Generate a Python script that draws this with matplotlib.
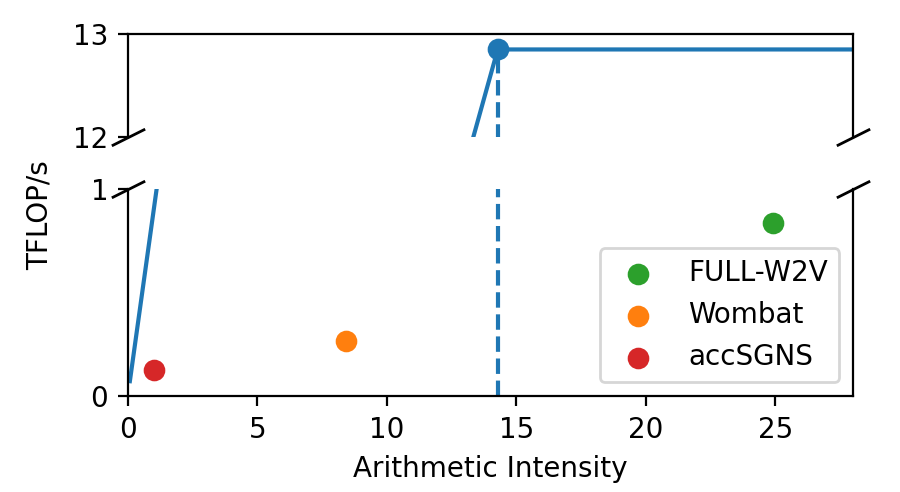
import numpy as np
import matplotlib
matplotlib.use('Agg')
import matplotlib.pyplot as plt

# roofline (TFLOP/s vs FLOP/byte)
bandwidth = 0.9        # TB/s
peak = 12.85           # TFLOP/s
ridge = peak / bandwidth
roof_x = [0.08, ridge, 28]
roof_y = [bandwidth * 0.08, peak, peak]

names = ['FULL-W2V', 'Wombat', 'accSGNS']
ai = [24.9, 8.42, 1.0]
perf = [0.836, 0.266, 0.126]
colors = ['tab:green', 'tab:orange', 'tab:red']

fig, (ax1, ax2) = plt.subplots(2, 1, sharex=True, figsize=(4.5, 2.46), dpi=200,
                               gridspec_kw={'height_ratios': [1, 2]})
fig.subplots_adjust(left=0.142, right=0.948, top=0.931, bottom=0.195, hspace=0.335)

for ax in (ax1, ax2):
    ax.plot(roof_x, roof_y, color='tab:blue', lw=1.5)
    ax.plot([ridge, ridge], [0, peak], '--', color='tab:blue', lw=1.5)
ax1.plot([ridge], [peak], 'o', color='tab:blue', ms=6.8)

for n, x, y, c in zip(names, ai, perf, colors):
    ax2.scatter(x, y, color=c, s=46, label=n, zorder=3)

ax1.set_ylim(12, 13)
ax2.set_ylim(0, 1)
ax2.set_xlim(0, 28)
ax1.set_yticks([12, 13])
ax2.set_yticks([0, 1])
ax2.set_xticks([0, 5, 10, 15, 20, 25])

ax1.spines['bottom'].set_visible(False)
ax2.spines['top'].set_visible(False)
ax1.tick_params(axis='x', bottom=False, labelbottom=False)

# break marks
d = .5
kw = dict(marker=[(-1, -d), (1, d)], markersize=12, linestyle='none',
          color='k', mec='k', mew=1, clip_on=False)
ax1.plot([0, 1], [0, 0], transform=ax1.transAxes, **kw)
ax2.plot([0, 1], [1, 1], transform=ax2.transAxes, **kw)

ax2.legend(loc='lower right')
ax2.set_xlabel('Arithmetic Intensity')
fig.text(0.044, 0.563, 'TFLOP/s', rotation=90, va='center', ha='center')

plt.savefig('out.png', dpi=200)
